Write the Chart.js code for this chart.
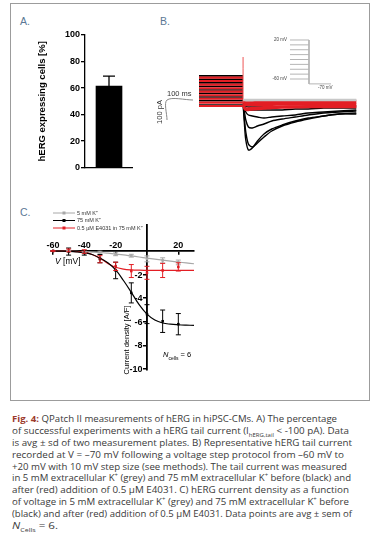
<!DOCTYPE html>
<html>
<head>
<meta charset="utf-8">
<script src="https://cdn.jsdelivr.net/npm/chart.js@4.4.1/dist/chart.umd.min.js"></script>
<style>
html, body { margin: 0; padding: 0; background: #fff; width: 373px; height: 543px; overflow: hidden; position: relative; font-family: "Liberation Sans", Arial, sans-serif; }
canvas { position: absolute; }
.t { position: absolute; white-space: nowrap; line-height: 1; }
#frame { position: absolute; left: 10px; top: 3px; width: 360px; height: 398px; border: 1.5px solid #9c9c9c; box-sizing: border-box; }
.letter { font-size: 10.5px; color: #5b7895; }
.cap { position: absolute; left: 12px; font-family: "Open Sans", sans-serif; font-size: 9px; color: #3a3a3a; white-space: nowrap; transform-origin: 0 50%; line-height: 12px; }
.cap sub, .cap sup { font-size: 5.5px; line-height: 0; }
</style>
</head>
<body>
<div id="frame"></div>
<div class="t letter" style="left:20px;top:16px">A.</div>
<div class="t letter" style="left:160px;top:16px">B.</div>
<div class="t letter" style="left:20px;top:207px">C.</div>

<canvas id="chartA" width="96" height="146" style="left:37px;top:28px"></canvas>
<canvas id="chartB" width="215" height="140" style="left:150px;top:30px"></canvas>
<canvas id="chartP" width="85" height="65" style="left:260px;top:30px"></canvas>
<canvas id="chartC" width="185" height="175" style="left:20px;top:205px"></canvas>

<div class="t" style="left:167px;top:90px;font-size:7.5px;color:#333">100 ms</div>
<div class="t" style="left:160px;top:112px;font-size:7.5px;color:#333;transform:translate(-50%,-50%) rotate(-90deg)">100 pA</div>
<div class="t" style="right:86px;top:38px;font-size:4.5px;color:#444">20 mV</div>
<div class="t" style="right:86px;top:77px;font-size:4.5px;color:#444">-60 mV</div>
<div class="t" style="left:318px;top:86px;font-size:4.5px;color:#444">-70 mV</div>

<div class="t" style="left:55px;top:257px;font-size:8.5px;color:#000"><i>V</i> [mV]</div>
<div class="t" style="left:127px;top:340px;font-size:7.5px;color:#000;transform:translate(-50%,-50%) rotate(-90deg)">Current density [A/F]</div>
<div class="t" style="left:163px;top:351px;font-size:7.5px;color:#000"><i>N</i><sub style="font-size:5px">cells</sub> = 6</div>

<div class="cap" data-r="337" style="top:413px"><b style="color:#9c3a2c">Fig. 4:</b> QPatch II measurements of hERG in hiPSC-CMs. A) The percentage</div>
<div class="cap" data-r="349" style="top:425px">of successful experiments with a hERG tail current (I<sub>hERG,tail</sub> &lt; -100 pA). Data</div>
<div class="cap" data-r="352" style="top:437px">is avg ± sd of two measurement plates. B) Representative hERG tail current</div>
<div class="cap" data-r="344" style="top:449px">recorded at V = –70 mV following a voltage step protocol from –60 mV to</div>
<div class="cap" data-r="347" style="top:461px">+20 mV with 10 mV step size (see methods). The tail current was measured</div>
<div class="cap" data-r="351" style="top:472px">in 5 mM extracellular K<sup>+</sup> (grey) and 75 mM extracellular K<sup>+</sup> before (black) and</div>
<div class="cap" data-r="349" style="top:484px">after (red) addition of 0.5 µM E4031. C) hERG current density as a function</div>
<div class="cap" data-r="349" style="top:496px">of voltage in 5 mM extracellular K<sup>+</sup> (grey) and 75 mM extracellular K<sup>+</sup> before</div>
<div class="cap" data-r="352" style="top:508px">(black) and after (red) addition of 0.5 µM E4031. Data points are avg ± sem of</div>
<div class="cap" data-r="58" style="top:520px"><i>N</i><sub>Cells</sub> = 6.</div>

<script>
// Panel A: percentage of cells with hERG tail current
const groupLabels = [""];
const expressMean = [61.5];
const expressSd = [7.5];

// Panel B: representative traces (time in ms, current in pA)
const stepTime = [0, 169];
const stepBlack = [121, 103, 86, 68, 50, 33, 15, -3, -25];
const stepRed = [112, 95, 77, 59, 42, 24, 6, -13, -30];
const tailTime = [170, 175, 180, 190, 205, 225, 250, 280, 320, 370, 420, 480, 540, 605];
const tailBlack = [
    [-25, -125, -200, -250, -240, -205, -170, -145, -125, -105, -90, -80, -70, -70],
    [-25, -100, -160, -220, -235, -215, -185, -155, -130, -110, -95, -80, -70, -65],
    [-20, -60, -100, -135, -140, -130, -120, -105, -95, -85, -75, -65, -60, -55],
    [-20, -40, -60, -75, -80, -85, -90, -85, -80, -75, -65, -60, -55, -50],
    [-15, -30, -40, -50, -50, -50, -50, -50, -50, -45, -45, -40, -40, -40],
    [-15, -25, -30, -35, -35, -35, -35, -35, -35, -35, -30, -30, -30, -30]
];
const tailRed = [
    [-5, -5, -6, -6, -6, -5, -5, -5, -5, -5, -5, -5, -5, -5],
    [-12, -14, -15, -15, -15, -15, -15, -15, -15, -15, -15, -14, -14, -14],
    [-20, -25, -26, -26, -25, -25, -24, -24, -23, -23, -22, -22, -22, -22],
    [-25, -38, -42, -42, -40, -38, -36, -34, -33, -32, -31, -30, -30, -30],
    [-28, -45, -50, -50, -48, -45, -43, -40, -38, -37, -36, -35, -35, -35]
];
const tailGrey = [
    [2, 2, 2, 2, 2, 2, 2, 2, 2, 2, 2, 2, 2, 2],
    [-2, -2, -3, -3, -3, -2, -2, -2, -2, -2, -2, -2, -2, -2]
];
const spikeTime = [169.5, 169.5];
const spikeCurrent = [215, -30];
const scaleTime = [-123, -123, -23];
const scaleCurrent = [-100, 0, 0];

// Panel B inset: voltage protocol (mV)
const protoLevels = [20, 10, 0, -10, -20, -30, -40, -50, -60];
const protoTailTime = [1, 1, 2.16];
const protoTailVolt = [20, -70, -70];

// Panel C: I-V relation (current density A/F)
const seriesNames = ["5 mM K\u207A", "75 mM K\u207A", "0.5 \u00B5M E4031 in 75 mM K\u207A"];
const volt = [-60, -50, -40, -30, -20, -10, 0, 10, 20];
const greyMean = [0, 0, -0.05, -0.1, -0.28, -0.4, -0.67, -0.8, -0.97];
const greyErr = [0.02, 0.05, 0.05, 0.08, 0.12, 0.12, 0.25, 0.22, 0.2];
const blackMean = [0, -0.05, -0.15, -0.65, -1.65, -3.55, -5.35, -5.95, -6.2];
const blackErr = [0.03, 0.3, 0.2, 0.35, 0.7, 0.85, 0.8, 0.95, 0.9];
const redMean = [0, 0.05, -0.05, -0.7, -1.3, -1.7, -1.85, -1.65, -1.35];
const redErr = [0.03, 0.12, 0.15, 0.3, 0.35, 0.55, 0.55, 0.6, 0.35];
const fitVolt = [-60, -55, -50, -45, -40, -35, -30, -25, -20, -15, -10, -5, 0, 5, 10, 15, 20, 25, 30];
const greyFit = [0, -0.01, -0.02, -0.04, -0.06, -0.09, -0.13, -0.19, -0.26, -0.33, -0.42, -0.51, -0.6, -0.69, -0.78, -0.86, -0.94, -1.01, -1.08];
const blackFit = [0, -0.01, -0.03, -0.07, -0.15, -0.3, -0.6, -1.0, -1.6, -2.5, -3.5, -4.55, -5.35, -5.85, -6.1, -6.2, -6.25, -6.28, -6.3];
const redFit = [0, -0.01, -0.02, -0.05, -0.1, -0.3, -0.62, -1.05, -1.38, -1.53, -1.6, -1.63, -1.64, -1.65, -1.65, -1.65, -1.65, -1.65, -1.65];
const xTicksC = [-60, -40, -20, 20];
const yTicksC = [-10, -8, -6, -4, -2];

const GREY = "#a8a8a8", BLACK = "#000000", RED = "#e31e24";
const boldFont = { family: "Liberation Sans", weight: "bold", size: 9 };
const zip = (xs, ys) => xs.map((x, i) => ({ x: x, y: ys[i] }));

Chart.defaults.animation = false;
Chart.defaults.responsive = false;
Chart.defaults.plugins.legend.display = false;
Chart.defaults.plugins.tooltip.enabled = false;

// ---------- A ----------
const errA = {
    id: "errA",
    afterDatasetsDraw(chart) {
        const ctx = chart.ctx, y = chart.scales.y;
        chart.getDatasetMeta(0).data.forEach((bar, i) => {
            const top = y.getPixelForValue(expressMean[i] + expressSd[i]);
            ctx.save();
            ctx.strokeStyle = "#000";
            ctx.lineWidth = 1.3;
            ctx.beginPath();
            ctx.moveTo(bar.x, bar.y);
            ctx.lineTo(bar.x, top);
            ctx.moveTo(bar.x - 6, top);
            ctx.lineTo(bar.x + 6, top);
            ctx.stroke();
            ctx.restore();
        });
    }
};
new Chart(document.getElementById("chartA"), {
    type: "bar",
    data: {
        labels: groupLabels,
        datasets: [{ data: expressMean, backgroundColor: "#000", barThickness: 26 }]
    },
    options: {
        layout: { padding: { top: 7, left: 0, right: 0, bottom: 0 } },
        scales: {
            x: {
                grid: { display: false },
                border: { color: "#000", width: 1.3 },
                ticks: { display: false },
                afterFit: s => { s.height = 4; }
            },
            y: {
                min: 0, max: 100,
                ticks: { stepSize: 20, color: "#000", font: boldFont, padding: 1 },
                grid: { drawOnChartArea: false, drawTicks: true, tickLength: 4, color: "#000", lineWidth: 1.3 },
                border: { color: "#000", width: 1.3 },
                title: { display: true, text: "hERG expressing cells [%]", color: "#000", padding: 0,
                         font: { family: "Liberation Sans", weight: "bold", size: 9.5 } },
                afterFit: s => { s.width = 48; }
            }
        }
    },
    plugins: [errA]
});

// ---------- B ----------
const traceSets = [];
stepBlack.forEach(v => traceSets.push({ data: zip(stepTime, [v, v]), borderColor: BLACK, borderWidth: 1.7, order: 3 }));
stepRed.forEach(v => traceSets.push({ data: zip(stepTime, [v, v]), borderColor: RED, borderWidth: 2.1, order: 2 }));
tailBlack.forEach(tr => traceSets.push({ data: zip(tailTime, tr), borderColor: BLACK, borderWidth: 1.4, order: 3 }));
tailRed.forEach(tr => traceSets.push({ data: zip(tailTime, tr), borderColor: RED, borderWidth: 2.3, order: 2 }));
tailGrey.forEach(tr => traceSets.push({ data: zip(tailTime, tr), borderColor: "#c8c8c8", borderWidth: 1.6, order: 1 }));
traceSets.push({ data: zip(spikeTime, spikeCurrent), borderColor: "#ee5555", borderWidth: 1, order: 2 });
traceSets.push({ data: zip(scaleTime, scaleCurrent), borderColor: "#888", borderWidth: 1, order: 0 });

new Chart(document.getElementById("chartB"), {
    type: "scatter",
    data: { datasets: traceSets.map(d => Object.assign({ showLine: true, pointRadius: 0, tension: 0.3 }, d)) },
    options: {
        scales: {
            x: { type: "linear", display: false, min: -188.5, max: 638.5 },
            y: { type: "linear", display: false, min: -350, max: 350 }
        }
    }
});

// ---------- B inset ----------
const protoSets = protoLevels.map(v => ({ data: zip([0, 1], [v, v]) }));
protoSets.push({ data: zip(protoTailTime, protoTailVolt) });
new Chart(document.getElementById("chartP"), {
    type: "scatter",
    data: { datasets: protoSets.map(d => Object.assign({ showLine: true, pointRadius: 0, borderColor: "#b5b5b5", borderWidth: 1 }, d)) },
    options: {
        scales: {
            x: { type: "linear", display: false, min: -1.579, max: 2.895 },
            y: { type: "linear", display: false, min: -92.8, max: 40.5 }
        }
    }
});

// ---------- C ----------
const errSets = [[greyMean, greyErr, GREY], [blackMean, blackErr, BLACK], [redMean, redErr, RED]];
const extrasC = {
    id: "extrasC",
    afterDatasetsDraw(chart) {
        const ctx = chart.ctx, xs = chart.scales.x, ys = chart.scales.y;
        ctx.save();
        ctx.lineWidth = 1;
        errSets.forEach(([m, e, c]) => {
            ctx.strokeStyle = c;
            volt.forEach((v, i) => {
                const px = xs.getPixelForValue(v);
                const lo = ys.getPixelForValue(m[i] - e[i]), hi = ys.getPixelForValue(m[i] + e[i]);
                ctx.beginPath();
                ctx.moveTo(px, lo); ctx.lineTo(px, hi);
                ctx.moveTo(px - 2.5, lo); ctx.lineTo(px + 2.5, lo);
                ctx.moveTo(px - 2.5, hi); ctx.lineTo(px + 2.5, hi);
                ctx.stroke();
            });
        });
        // y tick labels, left of the crossing axis
        const axisX = xs.getPixelForValue(0);
        ctx.fillStyle = "#000";
        ctx.font = "bold 9px Liberation Sans";
        ctx.textAlign = "right";
        ctx.textBaseline = "middle";
        ys.ticks.forEach(t => ctx.fillText(String(t.value), axisX - 4.5, ys.getPixelForValue(t.value) + 0.5));
        // legend
        ctx.textAlign = "left";
        ctx.font = "5.5px Liberation Sans";
        [0, 1, 2].forEach(i => {
            const ds = chart.data.datasets[i];
            const ly = 8 + i * 7.5;
            ctx.strokeStyle = ds.borderColor;
            ctx.lineWidth = 1;
            ctx.beginPath(); ctx.moveTo(33, ly); ctx.lineTo(55, ly); ctx.stroke();
            ctx.fillStyle = ds.backgroundColor;
            ctx.fillRect(42.5, ly - 1.5, 3, 3);
            ctx.fillStyle = "#333";
            ctx.fillText(ds.label, 57, ly);
        });
        ctx.restore();
    }
};
new Chart(document.getElementById("chartC"), {
    type: "scatter",
    data: {
        datasets: [
            { label: seriesNames[0], data: zip(volt, greyMean), backgroundColor: GREY, borderColor: GREY, order: 2 },
            { label: seriesNames[1], data: zip(volt, blackMean), backgroundColor: BLACK, borderColor: BLACK, order: 0 },
            { label: seriesNames[2], data: zip(volt, redMean), backgroundColor: RED, borderColor: RED, order: 1 },
            { data: zip(fitVolt, greyFit), borderColor: GREY, showLine: true, pointRadius: 0, borderWidth: 1.2, tension: 0.4, order: 5 },
            { data: zip(fitVolt, blackFit), borderColor: BLACK, showLine: true, pointRadius: 0, borderWidth: 1.2, tension: 0.4, order: 3 },
            { data: zip(fitVolt, redFit), borderColor: RED, showLine: true, pointRadius: 0, borderWidth: 1.2, tension: 0.4, order: 4 }
        ].map(d => Object.assign({ pointStyle: "rect", pointRadius: 1.8, borderWidth: 0 }, d))
    },
    options: {
        layout: { padding: { left: 32, top: 20, right: 11, bottom: 10 } },
        scales: {
            x: {
                type: "linear", min: -60.6, max: 30, position: { y: 0 },
                afterBuildTicks: s => { s.ticks = xTicksC.map(v => ({ value: v })); },
                ticks: { color: "#000", font: boldFont, padding: -14, maxRotation: 0 },
                grid: { drawOnChartArea: false, drawTicks: true, tickLength: 3, color: "#000", lineWidth: 1.5 },
                border: { color: "#000", width: 1.8 }
            },
            y: {
                type: "linear", min: -10.08, max: 2.2, position: { x: 0 },
                afterBuildTicks: s => { s.ticks = yTicksC.map(v => ({ value: v })); },
                ticks: { display: false },
                grid: { drawOnChartArea: false, drawTicks: true, tickLength: 3, color: "#000", lineWidth: 1.5 },
                border: { color: "#000", width: 1.8 }
            }
        }
    },
    plugins: [extrasC]
});

// fit caption lines to their widths
document.querySelectorAll(".cap").forEach(el => {
    const w = el.getBoundingClientRect().width;
    const target = parseFloat(el.dataset.r) - 12;
    el.style.transform = "scaleX(" + (target / w) + ")";
});
</script>
</body>
</html>
